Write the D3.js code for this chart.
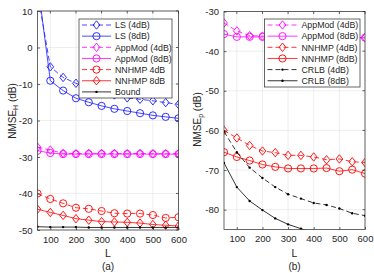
<!DOCTYPE html>
<html>
<head>
<meta charset="utf-8">
<script src="https://cdn.jsdelivr.net/npm/d3@7"></script>
<style>
  body { margin: 0; background: #fff; }
  svg { font-family: "Liberation Sans", Arial, sans-serif; }
</style>
</head>
<body>
<div id="chart"></div>
<script>
// shared x values
const L = [50, 100, 150, 200, 250, 300, 350, 400, 450, 500, 550, 600];
const xTicks = [100, 200, 300, 400, 500, 600];

// panel (a): NMSE_H
const lsDb4 = [15, -5.3, -8.2, -9.8, -11.0, -12.0, -13.0, -13.8, -14.2, -14.6, -15.1, -15.6];
const lsDb8 = [18, -9.1, -11.8, -13.9, -15.0, -16.0, -16.8, -17.4, -18.0, -18.6, -19.0, -19.4];
const appA4 = [-27.3, -28.1, -29.0, -29.1, -29.0, -29.0, -29.0, -29.1, -29.0, -29.1, -29.1, -29.1];
const appA8 = [-28.3, -28.9, -29.2, -29.2, -29.2, -29.2, -29.2, -29.2, -29.2, -29.2, -29.2, -29.2];
const nnA4 = [-40.0, -41.5, -42.7, -43.9, -44.2, -44.8, -45.4, -45.5, -45.5, -45.9, -46.7, -46.5];
const nnA8 = [-44.3, -45.2, -46.0, -46.9, -47.3, -47.7, -47.8, -47.9, -48.1, -48.5, -48.7, -48.9];
const bound = [-49.1, -49.2, -49.2, -49.2, -49.3, -49.3, -49.3, -49.3, -49.3, -49.3, -49.3, -49.3];
const yTicksA = [-50, -40, -30, -20, -10, 0, 10];

// panel (b): NMSE_p
const appB4 = [-32.9, -34.9, -36.1, -36.2, -36.4, -36.5, -36.5, -36.5, -36.5, -36.5, -36.6, -36.6];
const appB8 = [-35.7, -36.4, -36.4, -36.4, -36.5, -36.5, -36.5, -36.5, -36.5, -36.5, -36.6, -36.6];
const nnB4 = [-60.0, -61.9, -63.8, -65.2, -65.6, -66.3, -66.3, -66.7, -67.4, -67.2, -67.9, -68.1];
const nnB8 = [-65.5, -66.7, -67.6, -68.6, -69.2, -69.6, -69.6, -69.6, -69.5, -70.3, -69.9, -70.9];
const crlb4 = [-60.3, -65.5, -69.4, -72.0, -74.3, -76.1, -77.2, -78.3, -78.8, -79.7, -80.9, -81.5];
const crlb8 = [-68.2, -74.3, -77.8, -80.1, -82.2, -83.7, -84.8, -85.8, -86.7, -87.5, -88.2, -88.9];
const yTicksB = [-80, -70, -60, -50, -40, -30];

const BLUE = '#1a1aff', MAG = '#ff00ff', RED = '#ff0000', BLK = '#000000';
const DASH = '5,3';

const panels = [
  {
    id: 'a', left: 37.5, right: 178.5, top: 11, bottom: 230,
    yDomain: [-50, 10], yTicks: yTicksA, ylab: 'H', caption: '(a)',
    ylabX: 15.5, ylabY: 111,
    legend: { x: 79, y: 19, w: 93, h: 79, textX: 115 },
    series: [
      { name: 'LS (4dB)', v: lsDb4, color: BLUE, dash: DASH, mark: 'diamond' },
      { name: 'LS (8dB)', v: lsDb8, color: BLUE, dash: null, mark: 'circle' },
      { name: 'AppMod (4dB)', v: appA4, color: MAG, dash: DASH, mark: 'diamond' },
      { name: 'AppMod (8dB)', v: appA8, color: MAG, dash: null, mark: 'circle' },
      { name: 'NNHMP 4dB', v: nnA4, color: RED, dash: DASH, mark: 'circle' },
      { name: 'NNHMP 8dB', v: nnA8, color: RED, dash: null, mark: 'diamond' },
      { name: 'Bound', v: bound, color: BLK, dash: null, mark: 'dot' }
    ]
  },
  {
    id: 'b', left: 224, right: 365, top: 11.5, bottom: 229.5,
    yDomain: [-85, -30], yTicks: yTicksB, ylab: 'p', caption: '(b)',
    ylabX: 200.5, ylabY: 119.5,
    legend: { x: 264.5, y: 19, w: 95.5, h: 68, textX: 301.5 },
    series: [
      { name: 'AppMod (4dB)', v: appB4, color: MAG, dash: DASH, mark: 'diamond' },
      { name: 'AppMod (8dB)', v: appB8, color: MAG, dash: null, mark: 'circle' },
      { name: 'NNHMP (4dB)', v: nnB4, color: RED, dash: DASH, mark: 'diamond' },
      { name: 'NNHMP (8dB)', v: nnB8, color: RED, dash: null, mark: 'circle' },
      { name: 'CRLB (4dB)', v: crlb4, color: BLK, dash: DASH, mark: 'dot' },
      { name: 'CRLB (8dB)', v: crlb8, color: BLK, dash: null, mark: 'dot' }
    ]
  }
];

const svg = d3.select('#chart').append('svg')
  .attr('width', 374).attr('height', 273);

function drawMarker(g, kind, x, y, color) {
  if (kind === 'circle') {
    g.append('circle').attr('cx', x).attr('cy', y).attr('r', 3.6)
      .attr('fill', 'none').attr('stroke', color).attr('stroke-width', 0.9);
  } else if (kind === 'diamond') {
    const s = 4.2;
    g.append('path')
      .attr('d', `M${x},${y - s}L${x + s * 0.8},${y}L${x},${y + s}L${x - s * 0.8},${y}Z`)
      .attr('fill', 'none').attr('stroke', color).attr('stroke-width', 0.9);
  } else {
    g.append('circle').attr('cx', x).attr('cy', y).attr('r', 1.2).attr('fill', color);
  }
}

panels.forEach(p => {
  const x = d3.scaleLinear().domain([50, 600]).range([p.left, p.right]);
  const y = d3.scaleLinear().domain(p.yDomain).range([p.bottom, p.top]);
  const g = svg.append('g');

  // grid
  g.selectAll('.gx').data(xTicks).enter().append('line')
    .attr('x1', d => x(d)).attr('x2', d => x(d))
    .attr('y1', p.top).attr('y2', p.bottom)
    .attr('stroke', '#e3e3e3').attr('stroke-width', 0.6);
  g.selectAll('.gy').data(p.yTicks).enter().append('line')
    .attr('x1', p.left).attr('x2', p.right)
    .attr('y1', d => y(d)).attr('y2', d => y(d))
    .attr('stroke', '#e3e3e3').attr('stroke-width', 0.6);

  // clip
  const clipId = 'clip-' + p.id;
  svg.append('clipPath').attr('id', clipId).append('rect')
    .attr('x', p.left).attr('y', p.top)
    .attr('width', p.right - p.left).attr('height', p.bottom - p.top);

  const plot = g.append('g').attr('clip-path', `url(#${clipId})`);
  const line = d3.line().x((d, i) => x(L[i])).y(d => y(d));

  p.series.forEach(s => {
    plot.append('path').datum(s.v)
      .attr('d', line)
      .attr('fill', 'none').attr('stroke', s.color).attr('stroke-width', 0.8)
      .attr('stroke-dasharray', s.dash);
    s.v.forEach((v, i) => drawMarker(plot, s.mark, x(L[i]), y(v), s.color));
  });

  // axis box
  g.append('rect').attr('x', p.left).attr('y', p.top)
    .attr('width', p.right - p.left).attr('height', p.bottom - p.top)
    .attr('fill', 'none').attr('stroke', '#262626').attr('stroke-width', 0.7);

  // axes with inward ticks
  const xAxis = d3.axisBottom(x).tickValues(xTicks).tickSizeInner(-2.5).tickSizeOuter(0).tickPadding(6);
  const xa = g.append('g').attr('transform', `translate(0,${p.bottom})`).call(xAxis);
  const yAxis = d3.axisLeft(y).tickValues(p.yTicks).tickSizeInner(-2.5).tickSizeOuter(0).tickPadding(5)
    .tickFormat(d => d);
  const ya = g.append('g').attr('transform', `translate(${p.left},0)`).call(yAxis);
  [xa, ya].forEach(a => {
    a.select('.domain').remove();
    a.selectAll('line').attr('stroke', '#262626').attr('stroke-width', 0.7);
    a.selectAll('text').attr('fill', '#262626').style('font-size', '9.5px');
  });
  // top/right ticks
  g.selectAll('.tt').data(xTicks).enter().append('line')
    .attr('x1', d => x(d)).attr('x2', d => x(d))
    .attr('y1', p.top).attr('y2', p.top + 2.5)
    .attr('stroke', '#262626').attr('stroke-width', 0.7);
  g.selectAll('.rt').data(p.yTicks).enter().append('line')
    .attr('x1', p.right).attr('x2', p.right - 2.5)
    .attr('y1', d => y(d)).attr('y2', d => y(d))
    .attr('stroke', '#262626').attr('stroke-width', 0.7);

  // labels
  const cx = (p.left + p.right) / 2;
  g.append('text').attr('x', cx).attr('y', 257).attr('text-anchor', 'middle')
    .attr('fill', '#262626').style('font-size', '10.5px').text('L');
  g.append('text').attr('x', cx).attr('y', 270).attr('text-anchor', 'middle')
    .attr('fill', '#262626').style('font-size', '10px').text(p.caption);
  const yl = g.append('text')
    .attr('transform', `translate(${p.ylabX},${p.ylabY}) rotate(-90)`)
    .attr('text-anchor', 'middle').attr('fill', '#262626').style('font-size', '10px');
  yl.append('tspan').text('NMSE');
  yl.append('tspan').attr('dy', 2.5).style('font-size', '7px').text(p.ylab);
  yl.append('tspan').attr('dy', -2.5).text(' (dB)');

  // legend
  const lg = p.legend;
  const leg = g.append('g');
  leg.append('rect').attr('x', lg.x).attr('y', lg.y).attr('width', lg.w).attr('height', lg.h)
    .attr('fill', '#fff').attr('stroke', '#262626').attr('stroke-width', 0.7);
  p.series.forEach((s, i) => {
    const ry = lg.y + 6 + i * 11.15;
    leg.append('line').attr('x1', lg.x + 3).attr('x2', lg.textX - 4)
      .attr('y1', ry).attr('y2', ry)
      .attr('stroke', s.color).attr('stroke-width', 0.8).attr('stroke-dasharray', s.dash);
    drawMarker(leg, s.mark, (lg.x + 3 + lg.textX - 4) / 2, ry, s.color);
    leg.append('text').attr('x', lg.textX).attr('y', ry + 3.2)
      .attr('fill', '#262626').style('font-size', '8.8px').text(s.name);
  });
});
</script>
</body>
</html>
